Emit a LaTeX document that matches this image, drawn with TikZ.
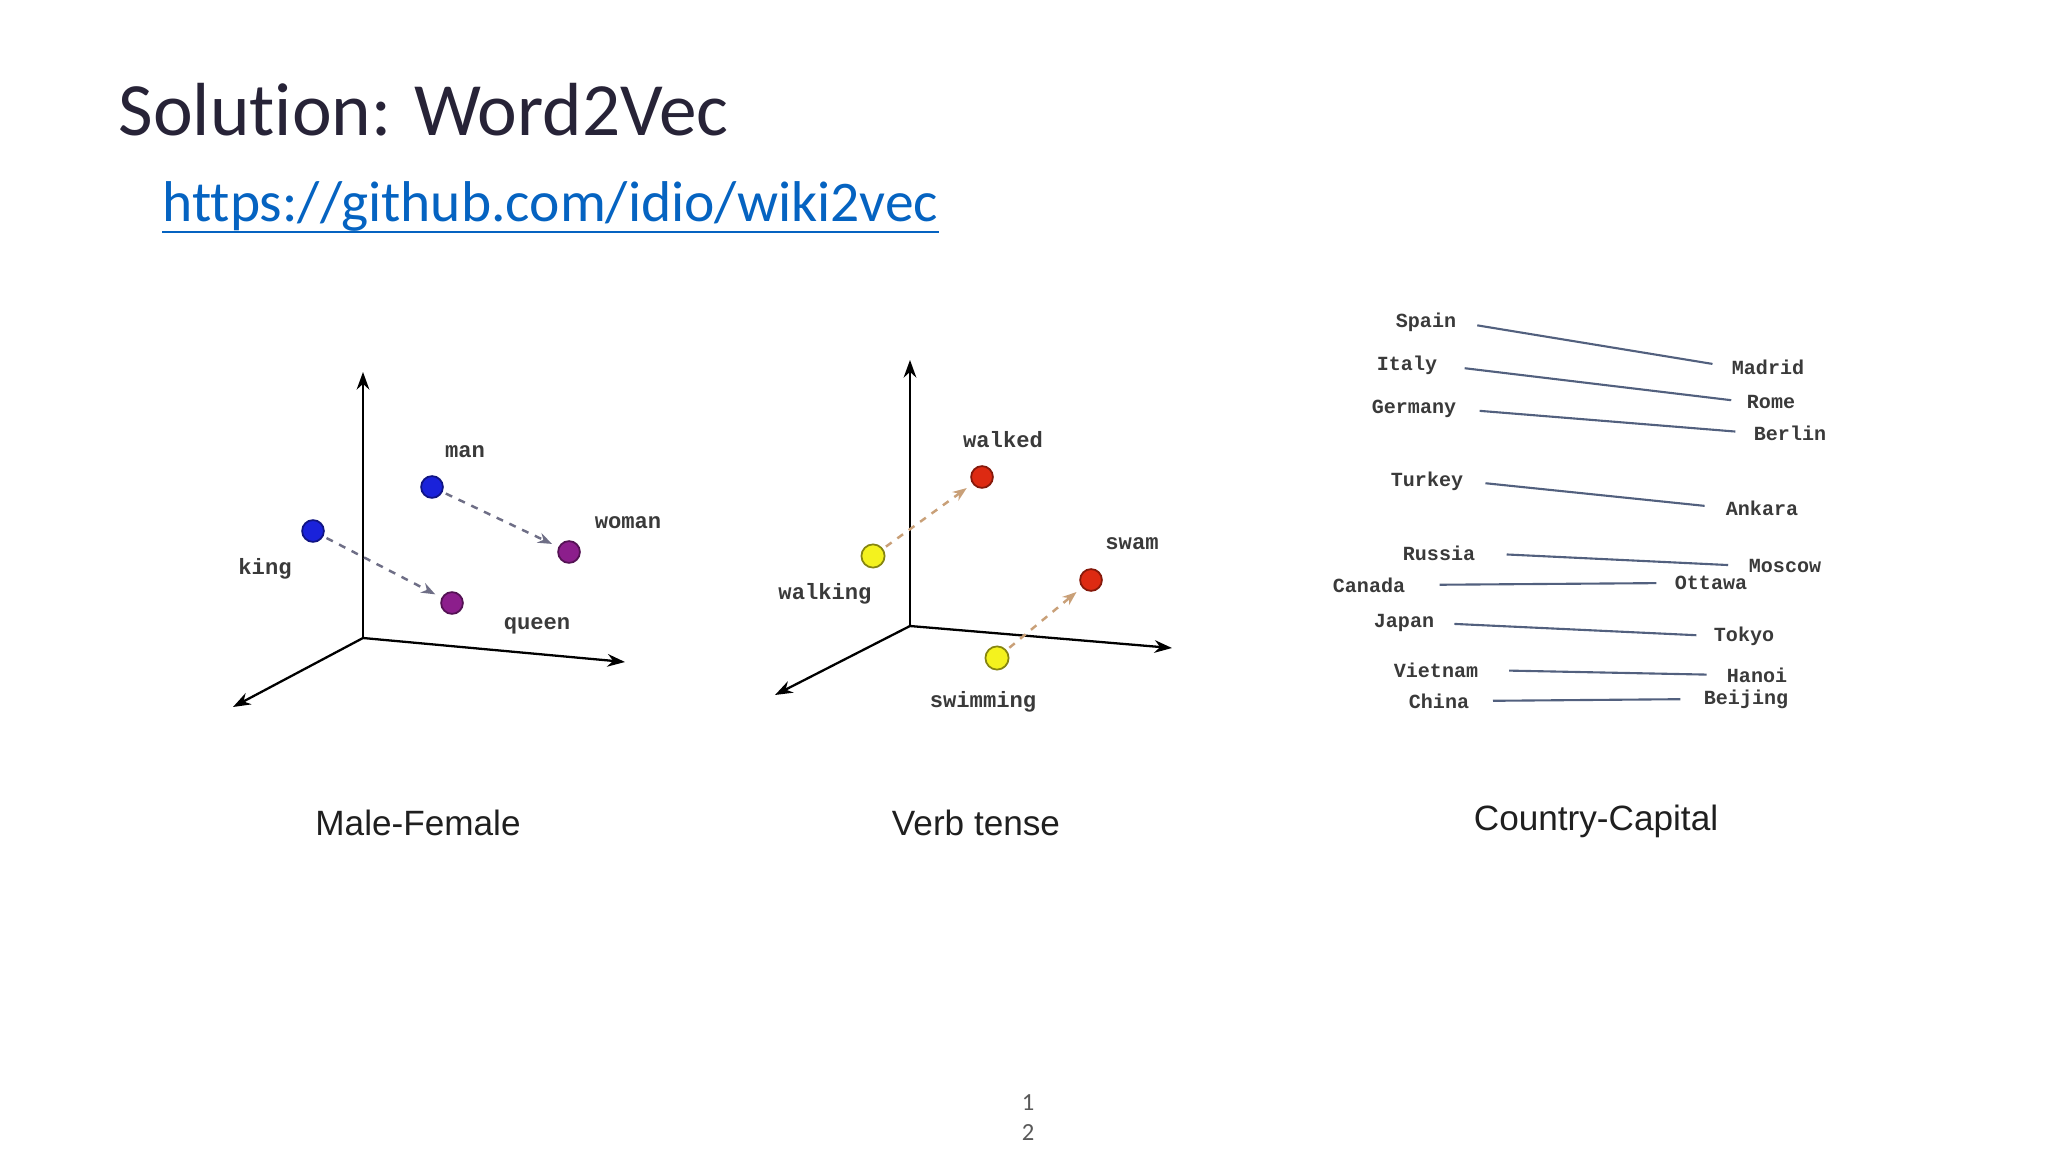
\documentclass[tikz,border=0pt]{standalone}
\usepackage{fontspec}
\setmainfont[Ligatures={NoCommon}]{Carlito}
\newfontfamily\monofont{Liberation Mono}
\newfontfamily\capfont{Liberation Sans}
\usepackage{tikz}
\usetikzlibrary{positioning}
\usetikzlibrary{arrows.meta}

\definecolor{titlecol}{HTML}{272337}
\definecolor{linkcol}{HTML}{0563C1}
\definecolor{dotblue}{HTML}{1A22DA}
\definecolor{dotpurple}{HTML}{8C1E8C}
\definecolor{dotred}{HTML}{DD2A12}
\definecolor{dotyellow}{HTML}{F4F21E}
\definecolor{pairline}{HTML}{52607E}
\definecolor{wordcol}{HTML}{3A3A3A}
\definecolor{pagecol}{HTML}{595959}
\definecolor{tensecol}{HTML}{C9A078}
\definecolor{gendercol}{HTML}{6E6E86}

\tikzset{
  axis/.style={line width=0.65pt, -{Stealth[length=5pt,width=3.6pt]}},
  dot/.style={circle, inner sep=0pt, minimum size=6.2pt, line width=0.5pt},
  word/.style={font=\monofont\bfseries\fontsize{6.3}{7}\selectfont, text=wordcol, inner sep=0pt},
  city/.style={font=\monofont\bfseries\fontsize{5.7}{7}\selectfont, text=wordcol, inner sep=0pt},
  pair/.style={pairline, line width=0.6pt},
  gender/.style={gendercol, line width=0.7pt, dash pattern=on 2pt off 2pt, -{Stealth[length=4pt,width=3pt]}, shorten <=1pt, shorten >=2pt},
  tense/.style={tensecol, line width=0.7pt, dash pattern=on 2pt off 2pt, -{Stealth[length=4pt,width=3pt]}, shorten <=1pt, shorten >=2pt},
  caption/.style={font=\capfont\fontsize{10}{12}\selectfont, text=black!88}
}

\begin{document}
\begin{tikzpicture}[x=0.01cm, y=-0.01cm]
\useasboundingbox (0,0) rectangle (2048,1152);

\node[anchor=base west, inner sep=0pt, text=titlecol, font=\fontsize{21.4}{25}\selectfont] (title) at (118,136) {Solution: Word2Vec};
\node[anchor=base west, inner sep=0pt, text=linkcol, font=\fontsize{16.35}{19}\selectfont] (link) at (162,222) {https://github.com/idio/wiki2vec};
\draw[linkcol, line width=0.6pt] ([yshift=-2.9pt]link.base west) -- ([yshift=-2.9pt]link.base east);

\coordinate (o1) at (363,638);
\coordinate (y1) at (363,372);
\coordinate (z1) at (233,707);
\coordinate (x1) at (625,662);
\draw[axis] (o1) -- (y1);
\draw[axis] (o1) -- (z1);
\draw[axis] (o1) -- (x1);

\node[dot, fill=dotblue, draw=dotblue!60!black] (king) at (313,531) {};
\node[dot, fill=dotblue, draw=dotblue!60!black] (man) at (432,487) {};
\node[dot, fill=dotpurple, draw=dotpurple!60!black] (woman) at (569,552) {};
\node[dot, fill=dotpurple, draw=dotpurple!60!black] (queen) at (452,603) {};
\draw[gender] (king) -- (queen);
\draw[gender] (man) -- (woman);

\node[word] (kinglab) at (265,569) {king};
\node[word] (manlab) at (465,452) {man};
\node[word] (womanlab) at (628,523) {woman};
\node[word] (queenlab) at (537,626) {queen};

\coordinate (o2) at (910,626);
\coordinate (y2) at (910,360);
\coordinate (z2) at (775,695);
\coordinate (x2) at (1172,648);
\draw[axis] (o2) -- (y2);
\draw[axis] (o2) -- (z2);
\draw[axis] (o2) -- (x2);

\node[dot, minimum size=6.6pt, fill=dotyellow, draw=dotyellow!55!black] (walking) at (873,556) {};
\node[dot, fill=dotred, draw=dotred!60!black] (walked) at (982,477) {};
\node[dot, fill=dotred, draw=dotred!60!black] (swam) at (1091,580) {};
\node[dot, minimum size=6.6pt, fill=dotyellow, draw=dotyellow!55!black] (swimming) at (997,658) {};
\draw[tense] (walking) -- (walked);
\draw[tense] (swimming) -- (swam);

\node[word] (walkedlab) at (1003,440) {walked};
\node[word] (walkinglab) at (825,594) {walking};
\node[word] (swamlab) at (1132,544) {swam};
\node[word] (swimminglab) at (983,702) {swimming};

\node[city] (spain) at (1426,322) {Spain};
\node[city] (italy) at (1407,365) {Italy};
\node[city] (germany) at (1414,409) {Germany};
\node[city] (turkey) at (1427,481) {Turkey};
\node[city] (russia) at (1439,553) {Russia};
\node[city] (canada) at (1369,585) {Canada};
\node[city] (japan) at (1404,623) {Japan};
\node[city] (vietnam) at (1436,670) {Vietnam};
\node[city] (china) at (1439,701) {China};

\node[city] (madrid) at (1768,367) {Madrid};
\node[city] (rome) at (1771,402) {Rome};
\node[city] (berlin) at (1790,433) {Berlin};
\node[city] (ankara) at (1762,508) {Ankara};
\node[city] (moscow) at (1785,566) {Moscow};
\node[city] (ottawa) at (1711,583) {Ottawa};
\node[city] (tokyo) at (1744,636) {Tokyo};
\node[city] (hanoi) at (1757,675) {Hanoi};
\node[city] (beijing) at (1746,699) {Beijing};

\draw[pair, shorten <=5.9pt, shorten >=5.4pt] (spain.east) -- (madrid.west);
\draw[pair, shorten <=7.7pt, shorten >=4.3pt] (italy.east) -- (rome.west);
\draw[pair, shorten <=6.5pt, shorten >=5.1pt] (germany.east) -- (berlin.west);
\draw[pair, shorten <=6.2pt, shorten >=5.9pt] (turkey.east) -- (ankara.west);
\draw[pair, shorten <=8.8pt, shorten >=5.7pt] (russia.east) -- (moscow.west);
\draw[pair, shorten <=9.6pt, shorten >=5.1pt] (canada.east) -- (ottawa.west);
\draw[pair, shorten <=5.6pt, shorten >=4.8pt] (japan.east) -- (tokyo.west);
\draw[pair, shorten <=8.6pt, shorten >=5.6pt] (vietnam.east) -- (hanoi.west);
\draw[pair, shorten <=6.6pt, shorten >=6.5pt] (china.east) -- (beijing.west);

\node[caption] (malefemale) at (418,823) {Male-Female};
\node[caption] (verbtense) at (976,823) {Verb tense};
\node[caption] (countrycapital) at (1596,821) {Country-Capital};

\node[text=pagecol, align=center, inner sep=0pt, font=\fontsize{7}{8.5}\selectfont] (pagenum) at (1028,1118) {1\\2};
\end{tikzpicture}
\end{document}
